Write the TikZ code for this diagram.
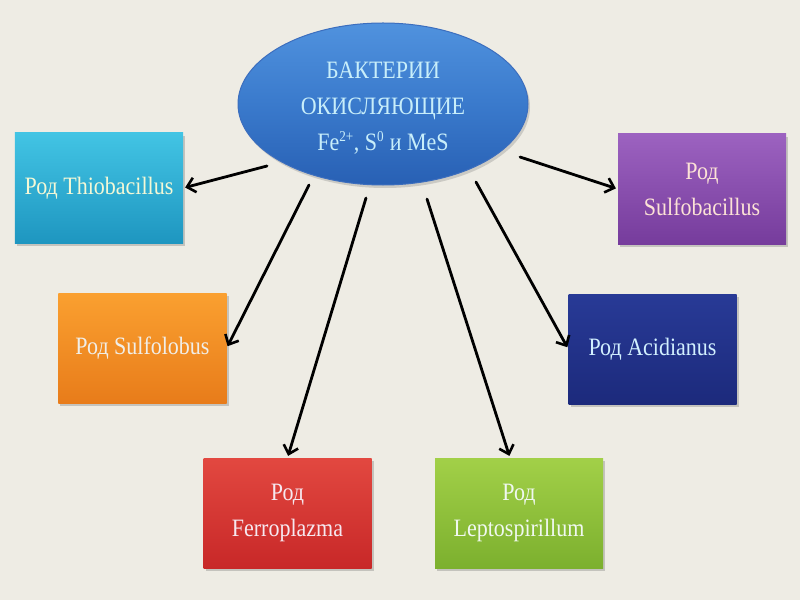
\documentclass[tikz,border=0pt]{standalone}
\usepackage{fontspec}
\setmainfont[FakeStretch=0.88]{Liberation Serif}
\usetikzlibrary{shapes.geometric,shadows,arrows.meta}
\definecolor{bgc}{RGB}{238,236,228}
\tikzset{
  box/.style={rectangle, minimum width=168bp, minimum height=110bp, inner sep=0pt,
    align=center, font=\fontsize{25bp}{36bp}\selectfont,
    drop shadow={shadow xshift=2bp, shadow yshift=-3bp, opacity=0.3, fill=black!60}},
  arr/.style={line width=2.8bp, line join=round, line cap=round, shorten >=2bp,
    -{Straight Barb[length=8bp,width=15bp,line width=2.6bp]}},
}
\begin{document}
\begin{tikzpicture}[x=1bp,y=-1bp]
\fill[bgc] (0,0) rectangle (800,600);
\useasboundingbox (0,0) rectangle (800,600);

\node[ellipse, minimum width=290bp, minimum height=162bp, inner sep=0pt,
  top color={rgb,255:red,80;green,146;blue,222}, bottom color={rgb,255:red,40;green,96;blue,180},
  middle color={rgb,255:red,58;green,122;blue,204},
  draw={rgb,255:red,60;green,110;blue,190}, line width=1bp,
  drop shadow={shadow xshift=2bp, shadow yshift=-3bp, opacity=0.25, fill=black!60},
  align=center, font=\fontsize{25bp}{36bp}\selectfont,
  text={rgb,255:red,200;green,238;blue,250}] (ell) at (383,104)
  {\rule{0pt}{25bp}БАКТЕРИИ\\ОКИСЛЯЮЩИЕ\\Fe\textsuperscript{\fontsize{15bp}{15bp}\selectfont 2+}, S\textsuperscript{\fontsize{15bp}{15bp}\selectfont 0} и MeS};

\node[box, top color={rgb,255:red,66;green,196;blue,228}, bottom color={rgb,255:red,30;green,150;blue,192},
  text={rgb,255:red,244;green,248;blue,214}] (thio) at (99,188) {Род Thiobacillus};
\node[box, top color={rgb,255:red,250;green,160;blue,48}, bottom color={rgb,255:red,232;green,124;blue,26},
  text={rgb,255:red,240;green,238;blue,232}] (sulfo) at (142.5,348) {Род Sulfolobus};
\node[box, top color={rgb,255:red,156;green,98;blue,192}, bottom color={rgb,255:red,118;green,60;blue,156},
  text={rgb,255:red,252;green,226;blue,214}] (sbac) at (702,189) {Род\\Sulfobacillus};
\node[box, top color={rgb,255:red,40;green,58;blue,150}, middle color={rgb,255:red,70;green,96;blue,196},
  bottom color={rgb,255:red,28;green,42;blue,124},
  text={rgb,255:red,210;green,240;blue,255}] (acid) at (652.5,349) {Род Acidianus};
\node[box, top color={rgb,255:red,226;green,72;blue,64}, bottom color={rgb,255:red,200;green,40;blue,40},
  text={rgb,255:red,246;green,232;blue,240}] (ferro) at (287.5,513) {Род\\Ferroplazma};
\node[box, top color={rgb,255:red,162;green,208;blue,72}, bottom color={rgb,255:red,124;green,176;blue,46},
  text={rgb,255:red,240;green,248;blue,240}] (lepto) at (519,513) {Род\\Leptospirillum};

\coordinate (s1) at (267,166);
\coordinate (s2) at (309,185);
\coordinate (s3) at (366,198);
\coordinate (s4) at (427,199);
\coordinate (s5) at (476,182);
\coordinate (s6) at (520,157);

\draw[arr] (s1) -- (thio.east);
\draw[arr] (s2) -- (sulfo.east);
\draw[arr] (s3) -- (ferro.north);
\draw[arr] (s4) -- ([xshift=-9bp]lepto.north);
\draw[arr] (s5) -- (acid.west);
\draw[arr] (s6) -- (sbac.west);
\end{tikzpicture}
\end{document}
